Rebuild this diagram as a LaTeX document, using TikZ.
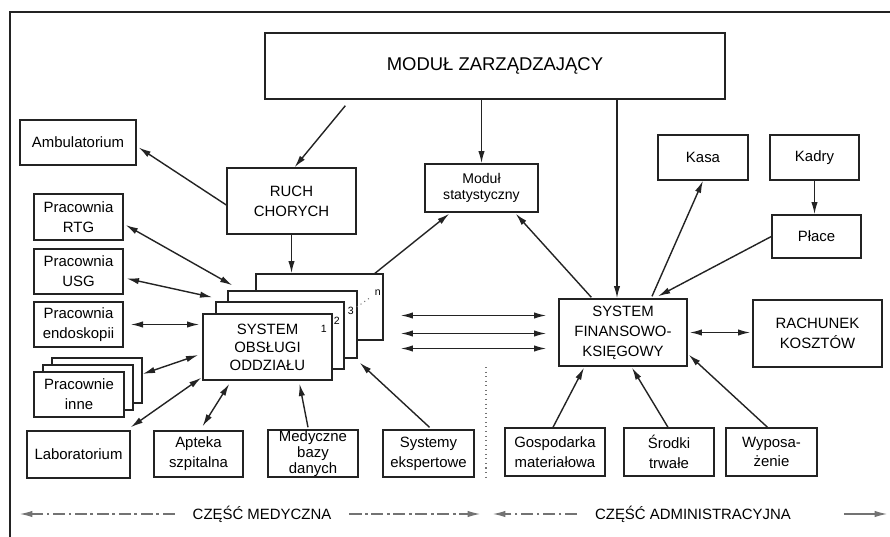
\documentclass[tikz,border=0pt]{standalone}
\usepackage{fontspec}
\setmainfont{Liberation Sans}
\usepackage{tikz}
\usetikzlibrary{arrows.meta,positioning}
\definecolor{scanink}{RGB}{35,35,35}
\definecolor{scangray}{RGB}{115,115,115}
\tikzstyle{box} = [draw=scanink, line width=0.8pt, fill=white, align=center, inner sep=0pt, font=\fontsize{8.5}{11.3}\selectfont]
\tikzstyle{arrow} = [line width=0.8pt, draw=scanink, -{Latex[length=7pt,width=3.6pt]}]
\tikzstyle{dblarrow} = [line width=0.8pt, draw=scanink, {Latex[length=7pt,width=3.6pt]}-{Latex[length=7pt,width=3.6pt]}]
\tikzstyle{num} = [inner sep=0pt, font=\fontsize{6}{6}\selectfont]
\tikzstyle{part} = [inner sep=1pt, font=\fontsize{8.5}{10}\selectfont]
\tikzstyle{partline} = [line width=0.6pt, draw=scangray, dash pattern=on 7pt off 2pt on 1.5pt off 2pt]

\begin{document}
\begin{tikzpicture}[x=0.02cm, y=-0.02cm]
\useasboundingbox (0,0) rectangle (890,537);

% Frame
\draw[scanink, line width=0.9pt] (890,12) -- (10,12) -- (10,537);

% Top level
\node[box, minimum width=9.2cm, minimum height=1.32cm, font=\fontsize{10.5}{12}\selectfont] (mgmt) at (495,66) {MODUŁ ZARZĄDZAJĄCY};
\node[box, minimum width=2.32cm, minimum height=0.9cm] (amb) at (78,142.5) {Ambulatorium};
\node[box, minimum width=2.58cm, minimum height=1.32cm] (ruch) at (291.5,201) {RUCH\\CHORYCH};
\node[box, minimum width=2.26cm, minimum height=0.96cm, font=\fontsize{8}{9.5}\selectfont] (stat) at (481.5,188) {Moduł\\statystyczny};

% Medical side
\node[box, minimum width=1.78cm, minimum height=0.92cm] (rtg) at (78.5,217) {Pracownia\\RTG};
\node[box, minimum width=1.78cm, minimum height=0.9cm] (usg) at (78.5,271.5) {Pracownia\\USG};
\node[box, minimum width=1.78cm, minimum height=0.9cm] (endo) at (78.5,324.5) {Pracownia\\endoskopii};
\node[box, minimum width=1.8cm, minimum height=0.9cm] (inne3) at (97,380.5) {};
\node[box, minimum width=1.8cm, minimum height=0.9cm] (inne2) at (88,387.5) {};
\node[box, minimum width=1.8cm, minimum height=0.9cm] (inne1) at (79,394.5) {Pracownie\\inne};
\node[box, minimum width=2.06cm, minimum height=0.94cm] (lab) at (78.5,454.5) {Laboratorium};
\node[box, minimum width=1.78cm, minimum height=0.92cm] (apteka) at (198.5,454) {Apteka\\szpitalna};
\node[box, minimum width=1.8cm, minimum height=0.94cm, font=\fontsize{8.5}{7.8}\selectfont] (med) at (313,453.5) {Medyczne\\bazy\\danych};
\node[box, minimum width=1.82cm, minimum height=0.94cm] (eksp) at (428.5,453.5) {Systemy\\ekspertowe};

% Ward system stack
\node[box, minimum width=2.54cm, minimum height=1.32cm] (soon) at (319.5,307) {};
\node[box, minimum width=2.58cm, minimum height=1.34cm] (soo3) at (292.5,324.5) {};
\node[box, minimum width=2.56cm, minimum height=1.34cm] (soo2) at (280,335.5) {};
\node[box, minimum width=2.58cm, minimum height=1.32cm, font=\fontsize{8.5}{10.2}\selectfont] (soo1) at (267.5,347) {SYSTEM\\OBSŁUGI\\ODDZIAŁU};
\node[num] (n1) at ([shift={(-9,16)}]soo1.north east) {1};
\node[num] (n2) at ([shift={(-8,20)}]soo2.north east) {2};
\node[num] (n3) at ([shift={(-7,21)}]soo3.north east) {3};
\node[num] (nn) at ([shift={(-6,19)}]soon.north east) {n};
\draw[scangray, dotted, line width=0.6pt, shorten <=2pt, shorten >=2pt] (n3) -- (nn);

% Administrative side
\node[box, minimum width=1.8cm, minimum height=0.9cm] (kasa) at (703,157.5) {Kasa};
\node[box, minimum width=1.78cm, minimum height=0.9cm] (kadry) at (814.5,157.5) {Kadry};
\node[box, minimum width=1.78cm, minimum height=0.86cm] (place) at (816.5,236.5) {Płace};
\node[box, minimum width=2.56cm, minimum height=1.34cm] (sfk) at (623,332.5) {SYSTEM\\FINANSOWO-\\KSIĘGOWY};
\node[box, minimum width=2.58cm, minimum height=1.34cm] (rach) at (817.5,333.5) {RACHUNEK\\KOSZTÓW};
\node[box, minimum width=2.0cm, minimum height=0.96cm] (gosp) at (555,452) {Gospodarka\\materiałowa};
\node[box, minimum width=1.8cm, minimum height=0.96cm] (srodki) at (669,452) {Środki\\trwałe};
\node[box, minimum width=1.82cm, minimum height=0.96cm] (wyp) at (771.5,452) {Wyposa-\\żenie};

% Connectors from the top
\draw[arrow] ([shift={(81,6)}]mgmt.south west) -- ([shift={(3,0)}]ruch.north);
\draw[arrow] (stat.north |- mgmt.south) -- (stat.north);
\draw[arrow] ([xshift=-0.12cm]sfk.north |- mgmt.south) -- ([xshift=-0.12cm]sfk.north);
\draw[arrow] ([shift={(0,4)}]ruch.west) -- ([shift={(2,5)}]amb.east);
\draw[arrow] (ruch.south) -- (ruch.south |- soon.north);
\draw[arrow] ([shift={(-10,1)}]soon.north east) -- ([shift={(25,1)}]stat.south west);
\draw[arrow] ([shift={(33,-1)}]sfk.north west) -- ([shift={(-23,1)}]stat.south east);

% Medical links
\draw[dblarrow] ([shift={(2,8)}]rtg.east) -- ([shift={(5,-5)}]soo3.north west);
\draw[dblarrow] ([shift={(3,7)}]usg.east) -- ([shift={(-3,-4)}]soo2.north west);
\draw[dblarrow] ([xshift=4]endo.east) -- ([xshift=-0.06cm]endo.east -| soo1.west);
\draw[dblarrow] ([shift={(0,-6.5)}]inne3.east) -- ([shift={(-4,8)}]soo1.west);
\draw[dblarrow] ([shift={(0,-3)}]lab.north east) -- ([shift={(-1,-3)}]soo1.south west);
\draw[dblarrow] ([shift={(4,-4)}]apteka.north) -- ([shift={(27,3)}]soo1.south west);
\draw[arrow] ([shift={(-5,-2)}]med.north) -- ([shift={(32,3)}]soo1.south);
\draw[arrow] ([shift={(1,-2)}]eksp.north) -- ([shift={(2,4)}]soo3.south east);

% Between the two parts
\foreach \dy in {-17,1,16}
  \draw[dblarrow] ([shift={(17,\dy)}]soon.east |- sfk.west) -- ([shift={(-12,\dy)}]sfk.west);

% Administrative links
\draw[arrow] ([shift={(29,-2)}]sfk.north) -- (kasa.south);
\draw[arrow] (kadry.south) -- (kadry.south |- place.north);
\draw[arrow] (place.west) -- ([shift={(35,-2)}]sfk.north);
\draw[dblarrow] ([xshift=0.04cm]sfk.east) -- ([xshift=-0.04cm]sfk.east -| rach.west);
\draw[arrow] ([shift={(-2,0)}]gosp.north) -- ([shift={(-39,1)}]sfk.south);
\draw[arrow] ([shift={(-1,0)}]srodki.north) -- ([shift={(9,1)}]sfk.south);
\draw[arrow] ([shift={(-4,0)}]wyp.north) -- ([shift={(1,-12)}]sfk.south east);

% Dividing line
\draw[scangray, dotted, line width=0.6pt] (486,367) -- (486,478);

% Parts
\node[part] (medtxt) at (262,514) {CZĘŚĆ MEDYCZNA};
\node[part] (admtxt) at (693,514) {CZĘŚĆ ADMINISTRACYJNA};
\coordinate (medleft) at (20,514);
\coordinate (medright) at (480,514);
\coordinate (admleft) at (493,514);
\coordinate (admright) at (887,514);
\draw[partline, -{Latex[length=7pt,width=3.6pt]}] ([xshift=-9pt]medtxt.west) -- (medleft);
\draw[partline, -{Latex[length=7pt,width=3.6pt]}] ([xshift=9pt]medtxt.east) -- (medright);
\draw[partline, -{Latex[length=7pt,width=3.6pt]}] ([xshift=-9pt]admtxt.west) -- (admleft);
\draw[line width=0.6pt, draw=scangray, -{Latex[length=7pt,width=3.6pt]}] ([xshift=29pt]admtxt.east) -- (admright);
\end{tikzpicture}
\end{document}
